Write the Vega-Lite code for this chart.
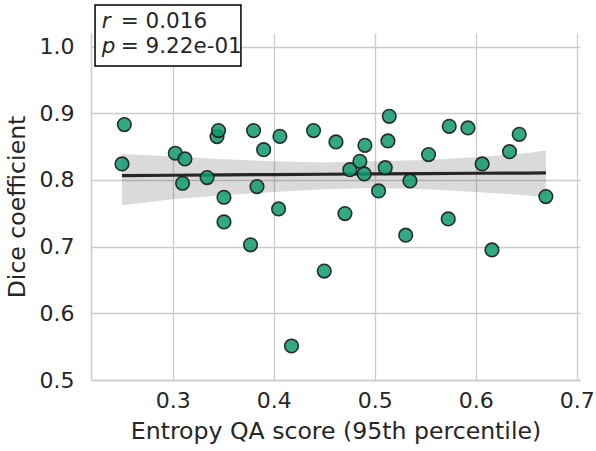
{
  "$schema": "https://vega.github.io/schema/vega-lite/v6.json",
  "width": 489,
  "height": 347,
  "padding": {"left": 5, "top": 4, "right": 10, "bottom": 5},
  "config": {
    "font": "DejaVu Sans",
    "view": {"stroke": null},
    "axis": {
      "labelFont": "DejaVu Sans",
      "titleFont": "DejaVu Sans",
      "labelFontSize": 22,
      "titleFontSize": 23.6,
      "labelColor": "#262626",
      "titleColor": "#262626",
      "titleFontWeight": "normal",
      "gridColor": "#cccccc",
      "gridWidth": 1.3,
      "domainColor": "#cccccc",
      "domainWidth": 1.5,
      "ticks": false
    }
  },
  "datasets": {
    "points": [
      {"entropy": 0.252, "dice": 0.883}, {"entropy": 0.2497, "dice": 0.824},
      {"entropy": 0.3025, "dice": 0.840}, {"entropy": 0.312, "dice": 0.8315},
      {"entropy": 0.3097, "dice": 0.795}, {"entropy": 0.334, "dice": 0.8035},
      {"entropy": 0.3438, "dice": 0.865}, {"entropy": 0.3453, "dice": 0.874},
      {"entropy": 0.3507, "dice": 0.774}, {"entropy": 0.3507, "dice": 0.737},
      {"entropy": 0.380, "dice": 0.874}, {"entropy": 0.390, "dice": 0.8454},
      {"entropy": 0.3834, "dice": 0.790}, {"entropy": 0.377, "dice": 0.7027},
      {"entropy": 0.4061, "dice": 0.8654}, {"entropy": 0.4048, "dice": 0.7565},
      {"entropy": 0.4176, "dice": 0.551}, {"entropy": 0.4394, "dice": 0.874},
      {"entropy": 0.450, "dice": 0.6633}, {"entropy": 0.4616, "dice": 0.857},
      {"entropy": 0.4705, "dice": 0.7495}, {"entropy": 0.4754, "dice": 0.8154},
      {"entropy": 0.4853, "dice": 0.8279}, {"entropy": 0.4903, "dice": 0.8519},
      {"entropy": 0.4896, "dice": 0.809}, {"entropy": 0.5038, "dice": 0.7835},
      {"entropy": 0.5144, "dice": 0.8954}, {"entropy": 0.5131, "dice": 0.8585},
      {"entropy": 0.5104, "dice": 0.8184}, {"entropy": 0.5349, "dice": 0.7985},
      {"entropy": 0.5307, "dice": 0.7172}, {"entropy": 0.5533, "dice": 0.838},
      {"entropy": 0.5738, "dice": 0.8804}, {"entropy": 0.5728, "dice": 0.7415},
      {"entropy": 0.5923, "dice": 0.878}, {"entropy": 0.6064, "dice": 0.824},
      {"entropy": 0.6161, "dice": 0.695}, {"entropy": 0.6335, "dice": 0.8424},
      {"entropy": 0.6431, "dice": 0.8684}, {"entropy": 0.6695, "dice": 0.775}
    ],
    "fit": [
      {"entropy": 0.2497, "fit": 0.8065, "lo": 0.762, "hi": 0.839},
      {"entropy": 0.30, "fit": 0.8070, "lo": 0.771, "hi": 0.835},
      {"entropy": 0.35, "fit": 0.8075, "lo": 0.777, "hi": 0.831},
      {"entropy": 0.40, "fit": 0.8080, "lo": 0.782, "hi": 0.828},
      {"entropy": 0.45, "fit": 0.8085, "lo": 0.786, "hi": 0.826},
      {"entropy": 0.50, "fit": 0.8090, "lo": 0.788, "hi": 0.828},
      {"entropy": 0.55, "fit": 0.8095, "lo": 0.786, "hi": 0.830},
      {"entropy": 0.60, "fit": 0.8100, "lo": 0.782, "hi": 0.834},
      {"entropy": 0.65, "fit": 0.8103, "lo": 0.777, "hi": 0.840},
      {"entropy": 0.6695, "fit": 0.8105, "lo": 0.774, "hi": 0.844}
    ],
    "stats": [{"r": "r", "rval": "= 0.016", "p": "p", "pval": "= 9.22e-01"}]
  },
  "layer": [
    {
      "data": {"name": "fit"},
      "mark": {"type": "area", "color": "#1a1a1a", "opacity": 0.16},
      "encoding": {
        "x": {"field": "entropy", "type": "quantitative",
          "scale": {"domain": [0.219, 0.7033], "nice": false, "zero": false},
          "axis": {"values": [0.3, 0.4, 0.5, 0.6, 0.7], "format": ".1f", "labelPadding": 10, "titlePadding": 8},
          "title": "Entropy QA score (95th percentile)"},
        "y": {"field": "hi", "type": "quantitative",
          "scale": {"domain": [0.5, 1.0203], "nice": false, "zero": false},
          "axis": {"values": [0.5, 0.6, 0.7, 0.8, 0.9, 1.0], "format": ".1f", "labelPadding": 17, "titlePadding": 10},
          "title": "Dice coefficient"},
        "y2": {"field": "lo"}
      }
    },
    {
      "data": {"name": "fit"},
      "mark": {"type": "line", "color": "#262626", "strokeWidth": 3.2},
      "encoding": {
        "x": {"field": "entropy", "type": "quantitative"},
        "y": {"field": "fit", "type": "quantitative"}
      }
    },
    {
      "data": {"name": "points"},
      "mark": {"type": "circle", "size": 185, "fill": "#0e9a6e", "fillOpacity": 0.85, "opacity": 1, "stroke": "#1c1c1c", "strokeWidth": 1.6, "strokeOpacity": 0.9},
      "encoding": {
        "x": {"field": "entropy", "type": "quantitative"},
        "y": {"field": "dice", "type": "quantitative"}
      }
    },
    {
      "data": {"name": "stats"},
      "mark": {"type": "rect", "fill": "white", "stroke": "black", "strokeWidth": 1.5},
      "encoding": {
        "x": {"datum": 0.223},
        "x2": {"datum": 0.3675},
        "y": {"datum": 1.0622},
        "y2": {"datum": 0.9708}
      }
    },
    {
      "data": {"name": "stats"},
      "mark": {"type": "text", "align": "left", "baseline": "alphabetic", "fontSize": 21.5, "fontStyle": "italic", "color": "#262626"},
      "encoding": {"text": {"field": "r"}, "x": {"datum": 0.2296}, "y": {"datum": 1.0277}}
    },
    {
      "data": {"name": "stats"},
      "mark": {"type": "text", "align": "left", "baseline": "alphabetic", "fontSize": 21.5, "color": "#262626"},
      "encoding": {"text": {"field": "rval"}, "x": {"datum": 0.2484}, "y": {"datum": 1.0277}}
    },
    {
      "data": {"name": "stats"},
      "mark": {"type": "text", "align": "left", "baseline": "alphabetic", "fontSize": 21.5, "fontStyle": "italic", "color": "#262626"},
      "encoding": {"text": {"field": "p"}, "x": {"datum": 0.2296}, "y": {"datum": 0.9903}}
    },
    {
      "data": {"name": "stats"},
      "mark": {"type": "text", "align": "left", "baseline": "alphabetic", "fontSize": 21.5, "color": "#262626"},
      "encoding": {"text": {"field": "pval"}, "x": {"datum": 0.2484}, "y": {"datum": 0.9903}}
    }
  ]
}
